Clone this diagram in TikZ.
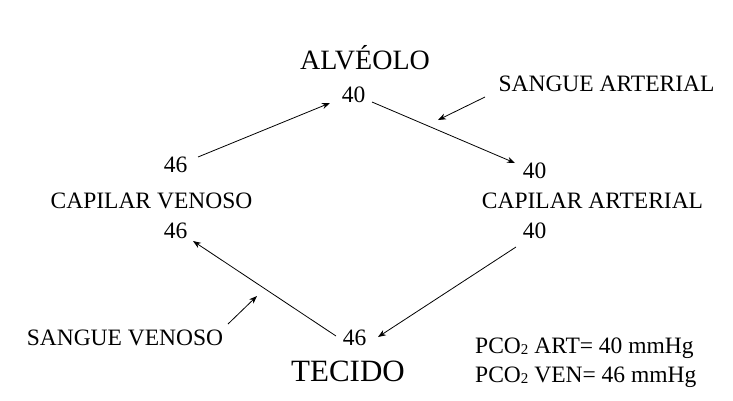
\documentclass[tikz,border=0pt]{standalone}
\usepackage{fontspec}
\setmainfont{Liberation Serif}
\usetikzlibrary{arrows.meta,calc}
\newcommand{\subtwo}{\raisebox{-1.5pt}{\fontsize{15}{15}\selectfont 2}}
\begin{document}
\begin{tikzpicture}[x=1pt,y=-1pt,
  lbl/.style={anchor=base,inner sep=0pt,font=\fontsize{23.5}{26}\selectfont},
  big/.style={anchor=base,inner sep=0pt,font=\fontsize{28}{30}\selectfont},
  arr/.style={draw=black,line width=0.8pt,-{Stealth[length=8pt,width=6pt]}}]
\useasboundingbox (0,0) rectangle (733,400);
% titles
\node[big] (alv) at (365,69) {ALVÉOLO};
\node[big,font=\fontsize{31}{33}\selectfont] (tec) at (348,381) {TECIDO};
% numbers
\node[lbl] (n40t) at (353.5,102) {40};
\node[lbl] (n40r) at (534.5,178) {40};
\node[lbl] (n40b) at (534.5,238) {40};
\node[lbl] (n46a) at (175.5,172) {46};
\node[lbl] (n46b) at (175.5,238) {46};
\node[lbl] (n46t) at (354.5,345) {46};
% side labels
\node[lbl] (capv) at (151.5,208) {CAPILAR VENOSO};
\node[lbl] (capa) at (592.5,208) {CAPILAR ARTERIAL};
\node[lbl] (sa) at (606.5,91) {SANGUE ARTERIAL};
\node[lbl] (sv) at (125,345) {SANGUE VENOSO};
% PCO2 values
\node[lbl,anchor=base west] (pa) at (475,353) {PCO\subtwo\ ART= 40 mmHg};
\node[lbl,anchor=base west] (pv) at (475,382) {PCO\subtwo\ VEN= 46 mmHg};
% free arrow ends
\coordinate (saTip) at (438,120);
\coordinate (svTip) at (257,296);
% cycle arrows
\draw[arr] ($(n46a.base)+(22.5,-15)$) -- ($(n40t.base)+(-23.5,1)$);
\draw[arr] ($(n40t.base)+(18.5,0)$) -- ($(n40r.base)+(-19.5,-15)$);
\draw[arr] ($(n40b.base)+(-18.5,9)$) -- ($(n46t.base)+(23.5,-8)$);
\draw[arr] ($(n46t.base)+(-18.5,-9)$) -- ($(n46b.base)+(17.5,3)$);
% pointer arrows
\draw[arr] ($(sa.base)+(-121.5,6)$) -- (saTip);
\draw[arr] ($(sv.base)+(103,-21)$) -- (svTip);
\end{tikzpicture}
\end{document}
